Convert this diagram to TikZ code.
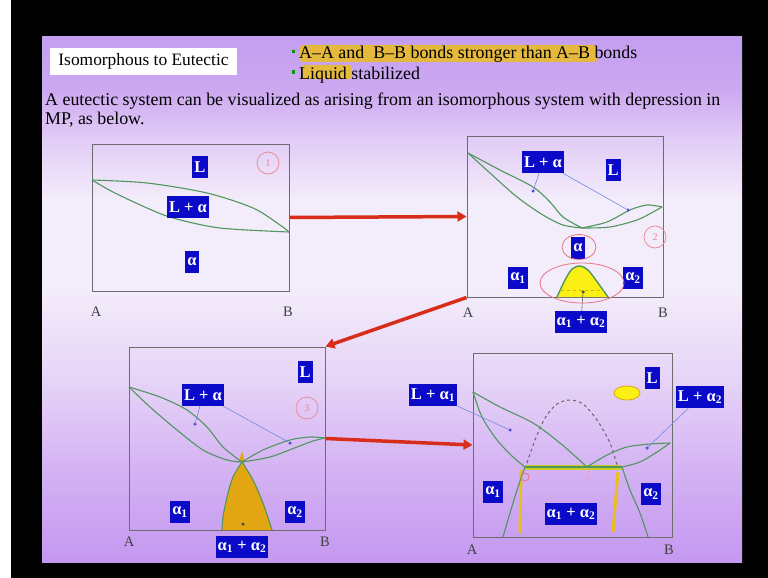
\documentclass[tikz,border=0pt]{standalone}
\usepackage{fontspec}
\setmainfont{Liberation Serif}
\usetikzlibrary{arrows.meta}

\definecolor{slidetop}{RGB}{196,158,240}
\definecolor{slideup}{RGB}{204,168,241}
\definecolor{slidelight}{RGB}{226,205,246}
\definecolor{slidemid}{RGB}{243,236,250}
\definecolor{slidelow}{RGB}{230,212,247}
\definecolor{slidedeep}{RGB}{212,178,243}
\definecolor{slidebot}{RGB}{196,152,240}
\definecolor{phaseblue}{RGB}{10,10,200}
\definecolor{curvegreen}{RGB}{80,150,95}
\definecolor{tieblue}{RGB}{110,140,220}
\definecolor{arrowred}{RGB}{215,45,25}
\definecolor{hilite}{RGB}{235,190,30}
\definecolor{domeyellow}{RGB}{250,240,20}
\definecolor{eutorange}{RGB}{226,166,18}
\definecolor{eutline}{RGB}{200,205,30}
\definecolor{penred}{RGB}{225,80,100}

\pgfdeclareverticalshading{slidebg}{100bp}{color(0bp)=(slidebot); color(25bp)=(slidebot);
    color(33.8bp)=(slidedeep); color(42.3bp)=(slidelow); color(50.9bp)=(slidemid);
    color(59.5bp)=(slidemid); color(65.2bp)=(slidelight); color(70bp)=(slideup);
    color(75bp)=(slidetop); color(100bp)=(slidetop)}

\tikzset{
    panel/.style={draw=gray!85!black, line width=1pt, inner sep=0pt},
    phase/.style={fill=phaseblue, text=white, inner xsep=2pt, inner ysep=0pt,
        minimum height=22pt, font=\fontsize{16.5}{16.5}\selectfont\bfseries},
    curve/.style={curvegreen, line width=1.1pt},
    tie/.style={tieblue, line width=0.6pt},
    dotpt/.style={circle, fill=phaseblue!70, inner sep=0pt, minimum size=3.5pt},
    axis/.style={text=black!75, font=\fontsize{14.5}{14.5}\selectfont},
    bigarrow/.style={arrowred, line width=3.5pt, -{Triangle[length=9pt,width=10pt]}},
    penmark/.style={circle, draw=penred!70, line width=0.7pt, text=penred!70,
        minimum size=22pt, inner sep=0pt, font=\fontsize{10}{10}\selectfont},
    pen/.style={draw=penred!80, line width=0.8pt},
    slidetext/.style={inner sep=0pt, font=\fontsize{17.9}{17.9}\selectfont},
}

\begin{document}
\begin{tikzpicture}[x=1pt, y=-1pt]
        % Frame and slide.
        \useasboundingbox (0,0) rectangle (768,578);
        \fill[white] (0,0) rectangle (11,578);
        \fill[black] (11,0) rectangle (768,578);
        \shade[shading=slidebg] (42,37) rectangle (742,562);

        % Heading.
        \node[fill=white, minimum width=187pt, minimum height=27pt, inner sep=0pt,
            font=\fontsize{17.4}{17.4}\selectfont] (title) at (143.5,61.5) {Isomorphous to Eutectic};
        \fill[hilite, opacity=0.85, rounded corners=3pt] (300,45) rectangle (597,62);
        \fill[hilite, opacity=0.85, rounded corners=3pt] (301,65) rectangle (352,79);
        \node[fill=green!60!black, minimum size=3pt, inner sep=0pt] (dot1) at (293,52) {};
        \node[fill=green!60!black, minimum size=3pt, inner sep=0pt] (dot2) at (293,72) {};
        \node[slidetext, anchor=base west] (bonds) at (299,59) {A–A and~ B–B bonds stronger than A–B bonds};
        \node[slidetext, anchor=base west] (liquid) at (299,79) {Liquid stabilized};
        \node[slidetext, anchor=base west] (para1) at (45,105)
            {A eutectic system can be visualized as arising from an isomorphous system with depression in};
        \node[slidetext, anchor=base west] (para2) at (45,124) {MP, as below.};

        % Diagram 1: isomorphous.
        \node[panel, minimum width=197pt, minimum height=147pt] (p1) at (190.5,217.5) {};
        \draw[curve] plot[smooth] coordinates {(92,180) (147,183) (207,193) (253,208) (280,225) (289,232)};
        \draw[curve] plot[smooth] coordinates {(92,180) (113,192) (147,208) (173,218) (220,228) (289,232)};
        \node[phase] (l1) at (200,167) {L};
        \node[phase] (la1) at (188,207) {L + α};
        \node[phase] (a1) at (192,262) {α};
        \node[penmark] (n1) at (268,163) {1};
        \node[axis] (A1) at (96,312) {A};
        \node[axis] (B1) at (288,312) {B};

        % Diagram 2: minimum and miscibility gap.
        \node[panel, minimum width=196pt, minimum height=161pt] (p2) at (565,216.5) {};
        \draw[curve] plot[smooth] coordinates {(468,153) (500,170) (533,187) (550,202) (563,217) (582,228)};
        \draw[curve] plot[smooth] coordinates {(468,153) (490,173) (517,197) (543,215) (563,225) (582,228)};
        \draw[curve] plot[smooth] coordinates {(582,228) (607,222) (630,210) (647,205) (662,207)};
        \draw[curve] plot[smooth] coordinates {(582,228) (610,227) (637,220) (653,212) (662,207)};
        \fill[domeyellow] plot[smooth] coordinates {(557,297) (565,280) (572,269) (580,266) (588,270) (598,283) (608,297)} -- cycle;
        \draw[curve, line width=1.4pt] plot[smooth] coordinates {(557,297) (565,280) (572,269) (580,266) (588,270) (598,283) (608,297)};
        \draw[eutorange, dashed] (561,290) -- (604,290);
        \node[phase] (l2) at (613,170) {L};
        \node[phase] (la2) at (543,162) {L + α};
        \node[phase] (a2) at (578,248) {α};
        \node[phase] (a12) at (518,278) {α\textsubscript{1}};
        \node[phase] (a22) at (633,278) {α\textsubscript{2}};
        \node[phase] (aa2) at (581,322) {α\textsubscript{1} + α\textsubscript{2}};
        \node[dotpt] (d2a) at (533,191) {};
        \node[dotpt] (d2b) at (628,210) {};
        \node[dotpt, fill=black!70] (d2c) at (583,292) {};
        \draw[tie] (la2) -- (d2a);
        \draw[tie] (la2) -- (d2b);
        \draw[black!60, line width=0.6pt] (d2c) -- (aa2);
        \draw[pen] (579,247) ellipse (17pt and 12.5pt);
        \draw[pen] (582,283) ellipse (42pt and 20pt);
        \node[penmark] (n2) at (655,237) {2};
        \node[axis] (A2) at (468,313) {A};
        \node[axis] (B2) at (663,313) {B};

        % Diagram 3: gap meets the solidus.
        \node[panel, minimum width=196pt, minimum height=183pt] (p3) at (227,438.5) {};
        \fill[eutorange] plot[smooth] coordinates {(222,530) (223,517) (227,497) (233,477) (242,462)}
            -- plot[smooth] coordinates {(242,462) (253,480) (263,503) (272,530)} -- cycle;
        \fill[eutorange] (239,462) -- (242,451) -- (245,462) -- cycle;
        \draw[curve] plot[smooth] coordinates {(222,530) (223,517) (227,497) (233,477) (242,462)};
        \draw[curve] plot[smooth] coordinates {(242,462) (253,480) (263,503) (272,530)};
        \draw[curve] plot[smooth] coordinates {(129,387) (160,397) (187,410) (207,427) (223,447) (242,462)};
        \draw[curve] plot[smooth] coordinates {(129,387) (150,407) (177,430) (203,450) (227,460) (242,462)};
        \draw[curve] plot[smooth] coordinates {(242,462) (263,450) (290,440) (310,437) (325,438)};
        \draw[curve] plot[smooth] coordinates {(242,462) (270,457) (297,447) (313,441) (325,438)};
        \node[phase] (l3) at (305,372) {L};
        \node[phase] (la3) at (203,395) {L + α};
        \node[phase] (a13) at (180,512) {α\textsubscript{1}};
        \node[phase] (a23) at (295,512) {α\textsubscript{2}};
        \node[phase] (aa3) at (242,547) {α\textsubscript{1} + α\textsubscript{2}};
        \node[dotpt] (d3a) at (195,424) {};
        \node[dotpt] (d3b) at (290,443) {};
        \node[dotpt, fill=black!70] (d3c) at (243,524) {};
        \draw[tie] (la3) -- (d3a);
        \draw[tie] (la3) -- (d3b);
        \node[penmark] (n3) at (307,408) {3};
        \node[axis] (A3) at (129,542) {A};
        \node[axis] (B3) at (325,542) {B};

        % Diagram 4: eutectic.
        \node[panel, minimum width=199pt, minimum height=184pt] (p4) at (572.5,445) {};
        \draw[hilite, line width=3pt] (521,470) -- (520,533);
        \draw[hilite, line width=3pt] (618,472) -- (613,532);
        \draw[eutline, line width=5pt] (525,467) -- (622,467);
        \draw[gray!80!black, dashed, line width=1pt] plot[smooth] coordinates
            {(527,463) (535,440) (545,418) (557,404) (570,400) (583,404) (597,420) (610,443) (617,465)};
        \draw[penred!60, dotted, line width=0.8pt] (588,468) -- (588,484);
        \draw[curve] plot[smooth] coordinates {(473,392) (500,407) (533,423) (560,443) (587,467)};
        \draw[curve] plot[smooth] coordinates {(473,392) (482,417) (497,440) (513,457) (525,467)};
        \draw[curve] plot[smooth] coordinates {(525,467) (517,490) (510,513) (503,537)};
        \draw[curve] plot[smooth] coordinates {(587,467) (607,455) (627,447) (650,444) (670,443)};
        \draw[curve] plot[smooth] coordinates {(622,467) (640,462) (657,452) (670,443)};
        \draw[curve] plot[smooth] coordinates {(622,467) (630,490) (640,513) (648,537)};
        \draw[curve] (525,467) -- (622,467);
        \draw[pen] (525,477) circle (4pt);
        \draw[fill=domeyellow, draw=eutorange, line width=0.8pt] (627,393) ellipse (13pt and 7pt);
        \node[phase] (l4) at (652,378) {L};
        \node[phase] (la41) at (433,395) {L + α\textsubscript{1}};
        \node[phase] (la42) at (700,397) {L + α\textsubscript{2}};
        \node[phase] (a14) at (493,492) {α\textsubscript{1}};
        \node[phase] (a24) at (651,494) {α\textsubscript{2}};
        \node[phase] (aa4) at (571,514) {α\textsubscript{1} + α\textsubscript{2}};
        \node[dotpt] (d4a) at (510,430) {};
        \node[dotpt] (d4b) at (647,448) {};
        \draw[tie] (la41) -- (d4a);
        \draw[tie] (la42) -- (d4b);
        \node[axis] (A4) at (472,550) {A};
        \node[axis] (B4) at (669,550) {B};

        % Arrows between the stages.
        \draw[bigarrow] (p1.east) -- (p2.west);
        \draw[bigarrow] (p2.south west) -- (p3.north east);
        \draw[bigarrow] (p3.east) -- (p4.west);
    \end{tikzpicture}
\end{document}
